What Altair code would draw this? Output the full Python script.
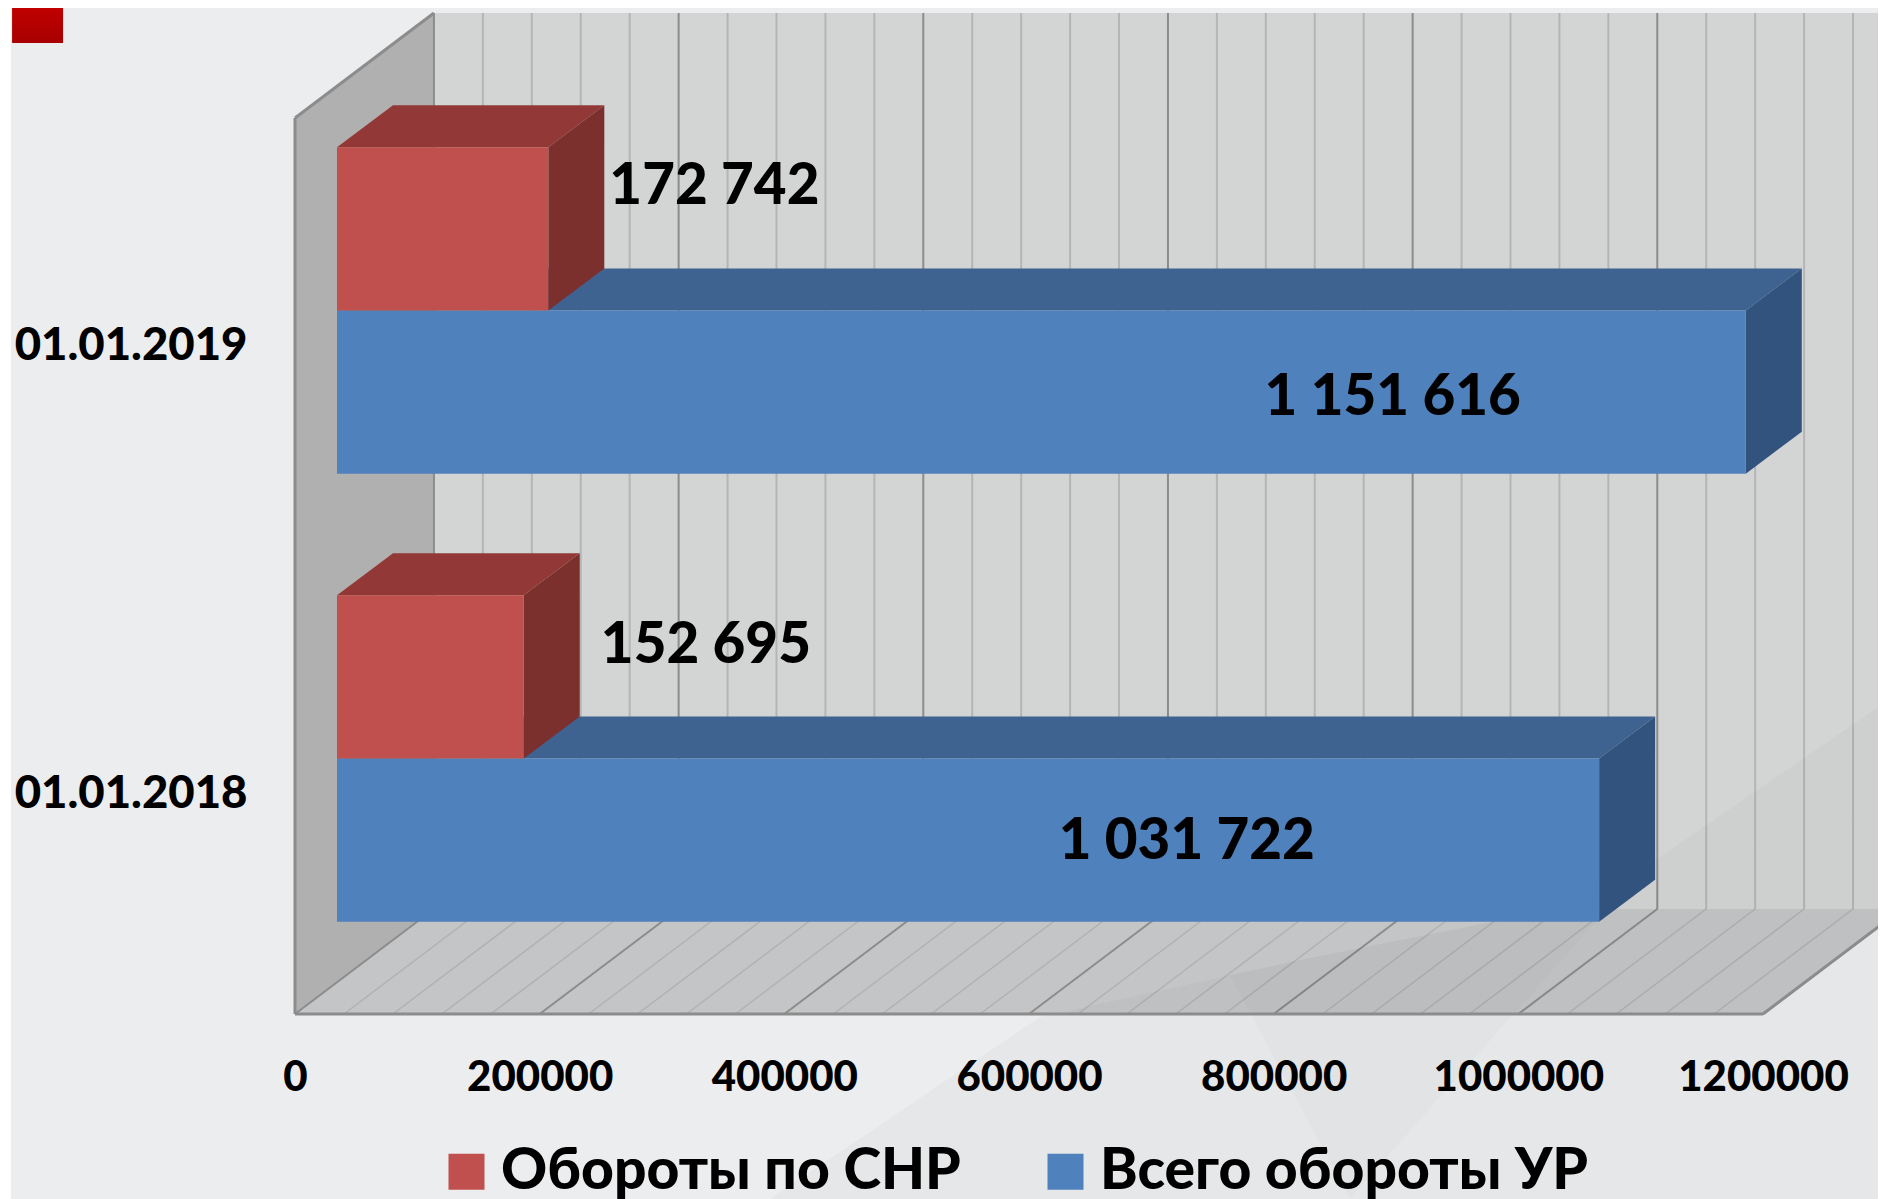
import altair as alt
import pandas as pd

dates = ["01.01.2018", "01.01.2019"]
snr_values = [152695, 172742]
total_values = [1031722, 1151616]
snr_labels = ["152 695", "172 742"]
total_labels = ["1 031 722", "1 151 616"]
series_names = ["Обороты по СНР", "Всего обороты УР"]
x_ticks = [0, 200000, 400000, 600000, 800000, 1000000, 1200000]

FONT = "Lato"
WEIGHT = 900
K = (1763.4 - 295) / 1200000  # px per unit
BAND = 448.0
X0, Y0 = 295.0, 1014.0


def vx(px):
    return (px - X0) / K


def vy(py):
    return (Y0 - py) / BAND


xs = alt.Scale(domain=[0, 1200000], nice=False, zero=False)
ys = alt.Scale(domain=[0, 2], nice=False, zero=False)
x_axis = alt.Axis(
    title=None, values=x_ticks, format="d", domain=False, ticks=False, grid=False, zindex=1,
    labelFont=FONT, labelFontWeight=WEIGHT, labelFontSize=42, labelColor="#000000",
    labelPadding=43, labelOverlap=False, labelFlush=False)
y_axis = alt.Axis(
    title=None, values=[0.5, 1.5], labelExpr=f"datum.value < 1 ? '{dates[0]}' : '{dates[1]}'",
    domain=False, ticks=False, grid=False, zindex=1,
    labelFont=FONT, labelFontWeight=WEIGHT, labelFontSize=45.5, labelColor="#000000",
    labelPadding=48, labelLimit=400, labelOffset=3)
X = lambda f="x": alt.X(f"{f}:Q", scale=xs, axis=x_axis)
Y = lambda f="y": alt.Y(f"{f}:Q", scale=ys, axis=y_axis)

# depth of the 3-D walls and of the bars, in axis units
WALL_DX, WALL_DY = 139 / K, 105 / BAND
BAR_START = 42 / K
BAR_DX, BAR_DY = 56 / K, 42 / BAND
ROW_BOTTOM = [(1014 - 921.7) / BAND, (1014 - 473.7) / BAND]
BAR_H = 163.2 / BAND


def rect(color, x, x2, y, y2, **kw):
    d = pd.DataFrame({"x": [x], "x2": [x2], "y": [y], "y2": [y2]})
    return alt.Chart(d).mark_rect(color=color, **kw).encode(
        x=X(), x2="x2:Q", y=Y(), y2="y2:Q")


# page background
background = rect("#ECEDEF", vx(11), vx(1900), vy(1210), vy(-10))
marker = rect(alt.Gradient(gradient="linear", x1=0, y1=0, x2=0, y2=1,
                           stops=[alt.GradientStop(color="#CC0000", offset=0),
                                  alt.GradientStop(color="#A80000", offset=1)]),
              vx(12), vx(63), vy(43), vy(-10))

# walls
back_wall = rect("#D3D5D4", WALL_DX, vx(1905), WALL_DY, 2 + WALL_DY)
left_wall = alt.Chart(pd.DataFrame({
    "x": [0, WALL_DX], "y": [0, WALL_DY], "y2": [2, 2 + WALL_DY]})
).mark_area(color="#B0B0B0", orient="vertical").encode(x=X(), y=Y(), y2="y2:Q")
floor = alt.Chart(pd.DataFrame({
    "y": [0, WALL_DY], "x": [0, WALL_DX], "x2": [1200000, 1200000 + WALL_DX]})
).mark_area(color="#C4C5C7", orient="horizontal").encode(y=Y(), x=X(), x2="x2:Q")

# grid on back wall and floor
ticks = list(range(0, 1200001, 40000))
minor = [t for t in ticks if t % 200000]
major = [t for t in ticks if t % 200000 == 0]


def wall_rows(vals):
    return pd.DataFrame({"x": [t + WALL_DX for t in vals],
                         "y": [WALL_DY] * len(vals), "y2": [2 + WALL_DY] * len(vals)})


def floor_rows(vals):
    rows = []
    for t in vals:
        rows.append({"t": t, "x": t, "y": 0})
        rows.append({"t": t, "x": t + WALL_DX, "y": WALL_DY})
    return pd.DataFrame(rows)


wall_minor = alt.Chart(wall_rows(minor)).mark_rule(color="#B4B5B5", strokeWidth=2).encode(x=X(), y=Y(), y2="y2:Q")
wall_major = alt.Chart(wall_rows(major)).mark_rule(color="#8C8C8C", strokeWidth=2).encode(x=X(), y=Y(), y2="y2:Q")
floor_minor = alt.Chart(floor_rows(minor)).mark_line(color="#B0B1B2", strokeWidth=1.5).encode(x=X(), y=Y(), detail="t:N")
floor_major = alt.Chart(floor_rows(major)).mark_line(color="#8C8C8C", strokeWidth=2).encode(x=X(), y=Y(), detail="t:N")


# soft background swoosh
def soft(points, bottom, color, opacity):
    return alt.Chart(pd.DataFrame({
        "x": [vx(p[0]) for p in points],
        "y": [vy(p[1]) for p in points],
        "y2": [vy(b) for b in bottom]})
    ).mark_area(color=color, opacity=opacity, orient="vertical").encode(x=X(), y=Y(), y2="y2:Q")


sw_top = [(770, 1199), (1040, 1017), (1300, 960), (1578, 905), (1656, 860), (1886, 815)]
swoosh = soft(sw_top, [1210] * len(sw_top), "#000000", 0.022)
swoosh2 = soft([(1656, 860), (1886, 702)], [860, 815], "#000000", 0.025)
swoosh3 = soft([(1230, 975), (1350, 950), (1578, 905), (1654, 860)],
               [975, 1199, 942, 860], "#000000", 0.014)

# outlines of walls and floor
edges = []
for i, ((ax, ay), (bx, by)) in enumerate([
    ((0, 0), (0, 2)),
    ((0, 2), (WALL_DX, 2 + WALL_DY)),
    ((0, 0), (1200000, 0)),
    ((1200000, 0), (1200000 + WALL_DX, WALL_DY)),
]):
    edges += [{"e": i, "x": ax, "y": ay}, {"e": i, "x": bx, "y": by}]
outline = alt.Chart(pd.DataFrame(edges)).mark_line(color="#8C8C8C", strokeWidth=3).encode(
    x=X(), y=Y(), detail="e:N")


def bar_frames(values, lift):
    rows_front, rows_top, rows_side = [], [], []
    for i, v in enumerate(values):
        lo = ROW_BOTTOM[i] + lift
        hi = lo + BAR_H
        end = BAR_START + v
        rows_front.append({"date": dates[i], "x": BAR_START, "x2": end, "y": lo, "y2": hi})
        rows_top += [{"b": i, "y": hi, "x": BAR_START, "x2": end},
                     {"b": i, "y": hi + BAR_DY, "x": BAR_START + BAR_DX, "x2": end + BAR_DX}]
        rows_side += [{"b": i, "x": end, "y": lo, "y2": hi},
                      {"b": i, "x": end + BAR_DX, "y": lo + BAR_DY, "y2": hi + BAR_DY}]
    return pd.DataFrame(rows_front), pd.DataFrame(rows_top), pd.DataFrame(rows_side)


color_scale = alt.Scale(domain=series_names, range=["#C0504D", "#4F81BD"])
legend = alt.Legend(orient="none", legendX=143, legendY=1025, direction="horizontal", title=None,
                    symbolType="square", symbolSize=1296, symbolOpacity=1, symbolStrokeWidth=0,
                    labelFont=FONT, labelFontWeight=WEIGHT, labelFontSize=57, labelColor="#000000",
                    labelLimit=900, labelOffset=6, columnPadding=76, columns=2)


def series_layers(values, lift, name, top_c, side_c):
    front_df, top_df, side_df = bar_frames(values, lift)
    front_df["series"] = name
    top = alt.Chart(top_df).mark_area(color=top_c, orient="horizontal").encode(
        y=Y(), x=X(), x2="x2:Q", detail="b:N")
    side = alt.Chart(side_df).mark_area(color=side_c, orient="vertical").encode(
        x=X(), y=Y(), y2="y2:Q", detail="b:N")
    front = alt.Chart(front_df).mark_rect().encode(
        x=X(), x2="x2:Q", y=Y(), y2="y2:Q",
        color=alt.Color("series:N", scale=color_scale, legend=legend))
    return [top, side, front]


blue = series_layers(total_values, 0, series_names[1], "#3E6390", "#32537D")
red = series_layers(snr_values, BAR_H, series_names[0], "#923937", "#7B302E")

# hand-placed data labels, as in the original slide
label_df = pd.DataFrame({
    "text": [snr_labels[1], total_labels[1], snr_labels[0], total_labels[0]],
    "x": [vx(714.5), vx(1393), vx(706), vx(1187)],
    "y": [vy(186.5), vy(398), vy(645.5), vy(841.5)],
})
labels = alt.Chart(label_df).mark_text(
    font=FONT, fontWeight=WEIGHT, fontSize=56.5, color="#000000", align="center", baseline="middle"
).encode(x=X(), y=Y(), text="text:N")

chart = alt.layer(
    background, marker, back_wall, left_wall, floor,
    wall_minor, wall_major, floor_minor, floor_major,
    swoosh, swoosh2, swoosh3, outline,
    *blue, *red, labels,
).properties(
    width=1468, height=896,
    padding={"left": 287, "top": 110, "right": 115, "bottom": 185},
    autosize=alt.AutoSizeParams(type="none"),
    background="#FFFFFF",
).configure_view(stroke=None)

chart.save("out.html", embed_options={"renderer": "svg", "actions": False})
